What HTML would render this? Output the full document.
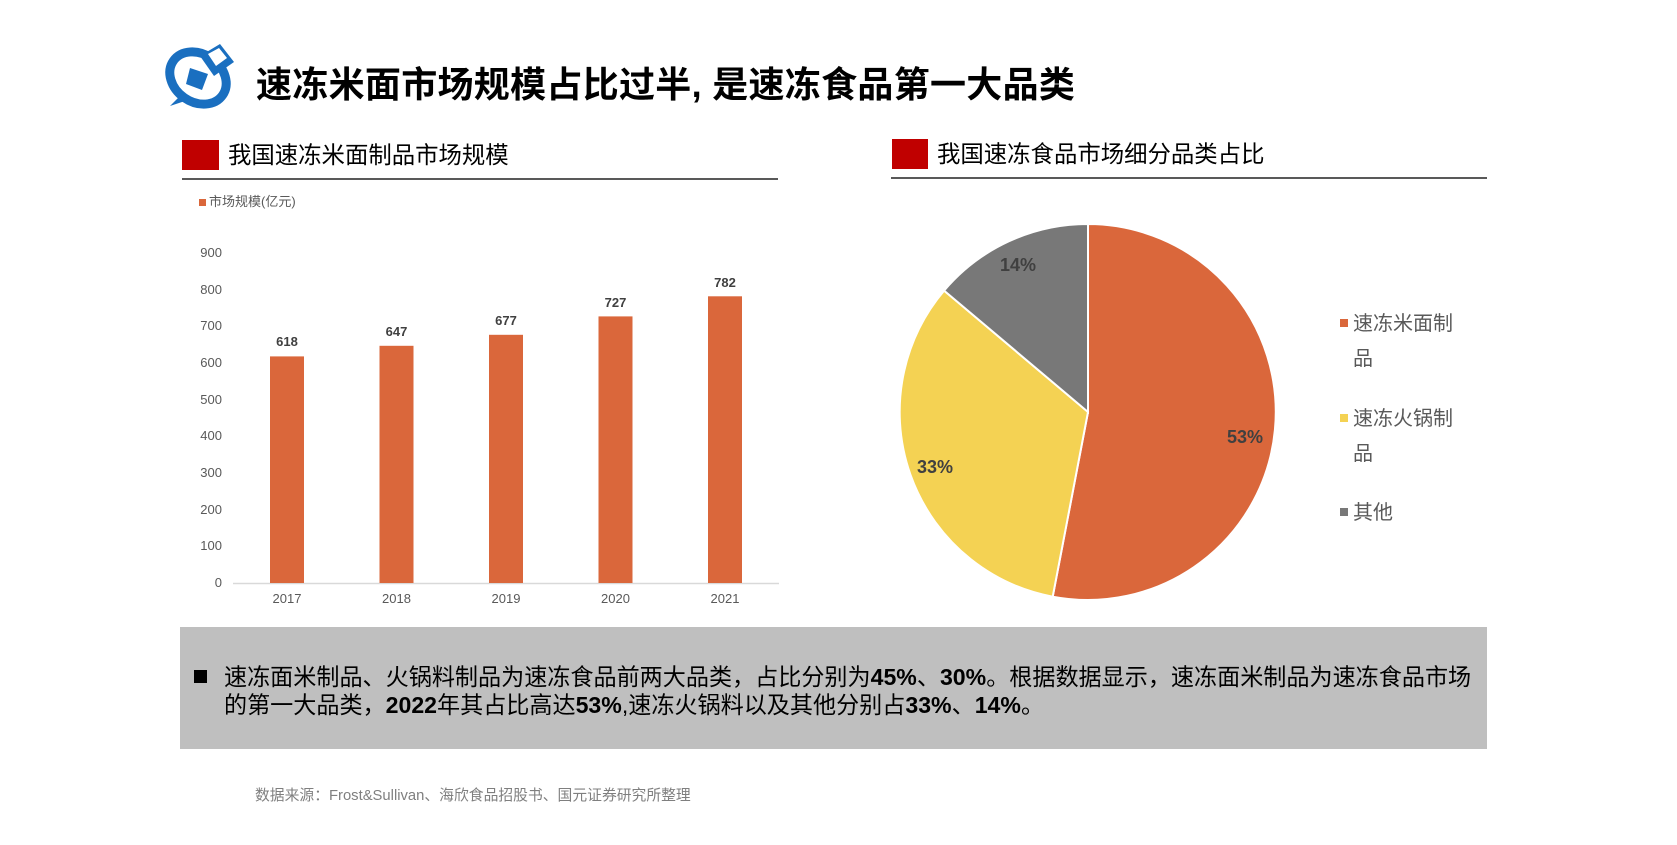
<!DOCTYPE html>
<html><head><meta charset="utf-8"><style>
body{margin:0;width:1677px;height:845px;background:#fff;position:relative;overflow:hidden;font-family:"Liberation Sans","Noto Sans CJK SC",sans-serif;}
.a{position:absolute;white-space:nowrap;}
</style></head><body>
<svg class="a" style="left:162px;top:40px" width="80" height="72" viewBox="0 0 80 72">
<ellipse cx="36" cy="38" rx="30" ry="24" fill="none" stroke="#1a6fc0" stroke-width="9" transform="rotate(35 36 38)"/>
<path d="M38 16 L58 4 L72 22 L52 36 Z" fill="#1a6fc0"/>
<path d="M46 14 L57 8 L65 18 L54 26 Z" fill="#fff"/>
<path d="M28 28 L46 34 L40 50 L24 44 Z" fill="#1a6fc0"/>
<path d="M8 66 L20 54 L26 60 Z" fill="#1a6fc0"/>
</svg>
<div class="a" style="left:256px;top:56px;font-size:36px;font-weight:bold;color:#000;letter-spacing:0.3px">速冻米面市场规模占比过半, 是速冻食品第一大品类</div>

<div class="a" style="left:182px;top:140px;width:37px;height:30px;background:#c00000"></div>
<div class="a" style="left:228px;top:140px;font-size:23.4px;color:#000;line-height:30px">我国速冻米面制品市场规模</div>
<div class="a" style="left:182px;top:178px;width:596px;height:2px;background:#595959"></div>

<div class="a" style="left:892px;top:139px;width:36px;height:30px;background:#c00000"></div>
<div class="a" style="left:937px;top:139px;font-size:23.4px;color:#000;line-height:30px">我国速冻食品市场细分品类占比</div>
<div class="a" style="left:891px;top:177px;width:596px;height:2px;background:#595959"></div>

<div class="a" style="left:199px;top:199px;width:7px;height:7px;background:#da673b"></div>
<div class="a" style="left:209px;top:194px;font-size:13px;color:#595959;line-height:16px">市场规模(亿元)</div>

<svg class="a" style="left:0;top:0" width="1677" height="845" font-family="Liberation Sans, sans-serif">
<g font-size="13" fill="#595959" text-anchor="end">
<text x="222" y="257">900</text><text x="222" y="294">800</text><text x="222" y="330">700</text><text x="222" y="367">600</text><text x="222" y="404">500</text><text x="222" y="440">400</text><text x="222" y="477">300</text><text x="222" y="514">200</text><text x="222" y="550">100</text><text x="222" y="587">0</text>
</g>
<line x1="233" y1="583.5" x2="779" y2="583.5" stroke="#d9d9d9" stroke-width="1.5"/>
<g fill="#da673b">
<rect x="270" y="356.4" width="34" height="226.6"/>
<rect x="379.5" y="345.8" width="34" height="237.2"/>
<rect x="489" y="334.8" width="34" height="248.2"/>
<rect x="598.5" y="316.4" width="34" height="266.6"/>
<rect x="708" y="296.3" width="34" height="286.7"/>
</g>
<g font-size="13" fill="#404040" font-weight="bold" text-anchor="middle">
<text x="287" y="346">618</text><text x="396.5" y="336">647</text><text x="506" y="325">677</text><text x="615.5" y="307">727</text><text x="725" y="287">782</text>
</g>
<g font-size="13" fill="#595959" text-anchor="middle">
<text x="287" y="603">2017</text><text x="396.5" y="603">2018</text><text x="506" y="603">2019</text><text x="615.5" y="603">2020</text><text x="725" y="603">2021</text>
</g>
<path d="M1088 412 L1088 224 A188 188 0 1 1 1052.7 596.7 Z" fill="#da673b" stroke="#fff" stroke-width="2"/>
<path d="M1088 412 L1052.7 596.7 A188 188 0 0 1 944.1 290.6 Z" fill="#f4d253" stroke="#fff" stroke-width="2"/>
<path d="M1088 412 L944.1 290.6 A188 188 0 0 1 1088 224 Z" fill="#787878" stroke="#fff" stroke-width="2"/>
<g font-size="18" font-weight="bold" fill="#404040" text-anchor="middle">
<text x="1018" y="271">14%</text><text x="1245" y="443">53%</text><text x="935" y="473">33%</text>
</g>
<rect x="1340" y="319" width="8" height="8" fill="#da673b"/>
<rect x="1340" y="414" width="8" height="8" fill="#f4d253"/>
<rect x="1340" y="508" width="8" height="8" fill="#787878"/>
<g font-size="20" fill="#595959" font-family="Liberation Sans, Noto Sans CJK SC, sans-serif">
<text x="1353" y="330">速冻米面制</text><text x="1353" y="365">品</text>
<text x="1353" y="425">速冻火锅制</text><text x="1353" y="460">品</text>
<text x="1353" y="519">其他</text>
</g>
</svg>

<div class="a" style="left:180px;top:627px;width:1307px;height:122px;background:#bfbfbf"></div>
<div class="a" style="left:194px;top:670px;width:13px;height:13px;background:#000"></div>
<div class="a" style="left:224px;top:663px;font-size:23.1px;line-height:28px;color:#000;">速冻面米制品、火锅料制品为速冻食品前两大品类，占比分别为<b>45%</b>、<b>30%</b>。根据数据显示，速冻面米制品为速冻食品市场<br>的第一大品类，<b>2022</b>年其占比高达<b>53%</b>,速冻火锅料以及其他分别占<b>33%</b>、<b>14%</b>。</div>
<div class="a" style="left:255px;top:787px;font-size:14.8px;color:#7f7f7f;line-height:18px">数据来源：Frost&amp;Sullivan、海欣食品招股书、国元证券研究所整理</div>
</body></html>
